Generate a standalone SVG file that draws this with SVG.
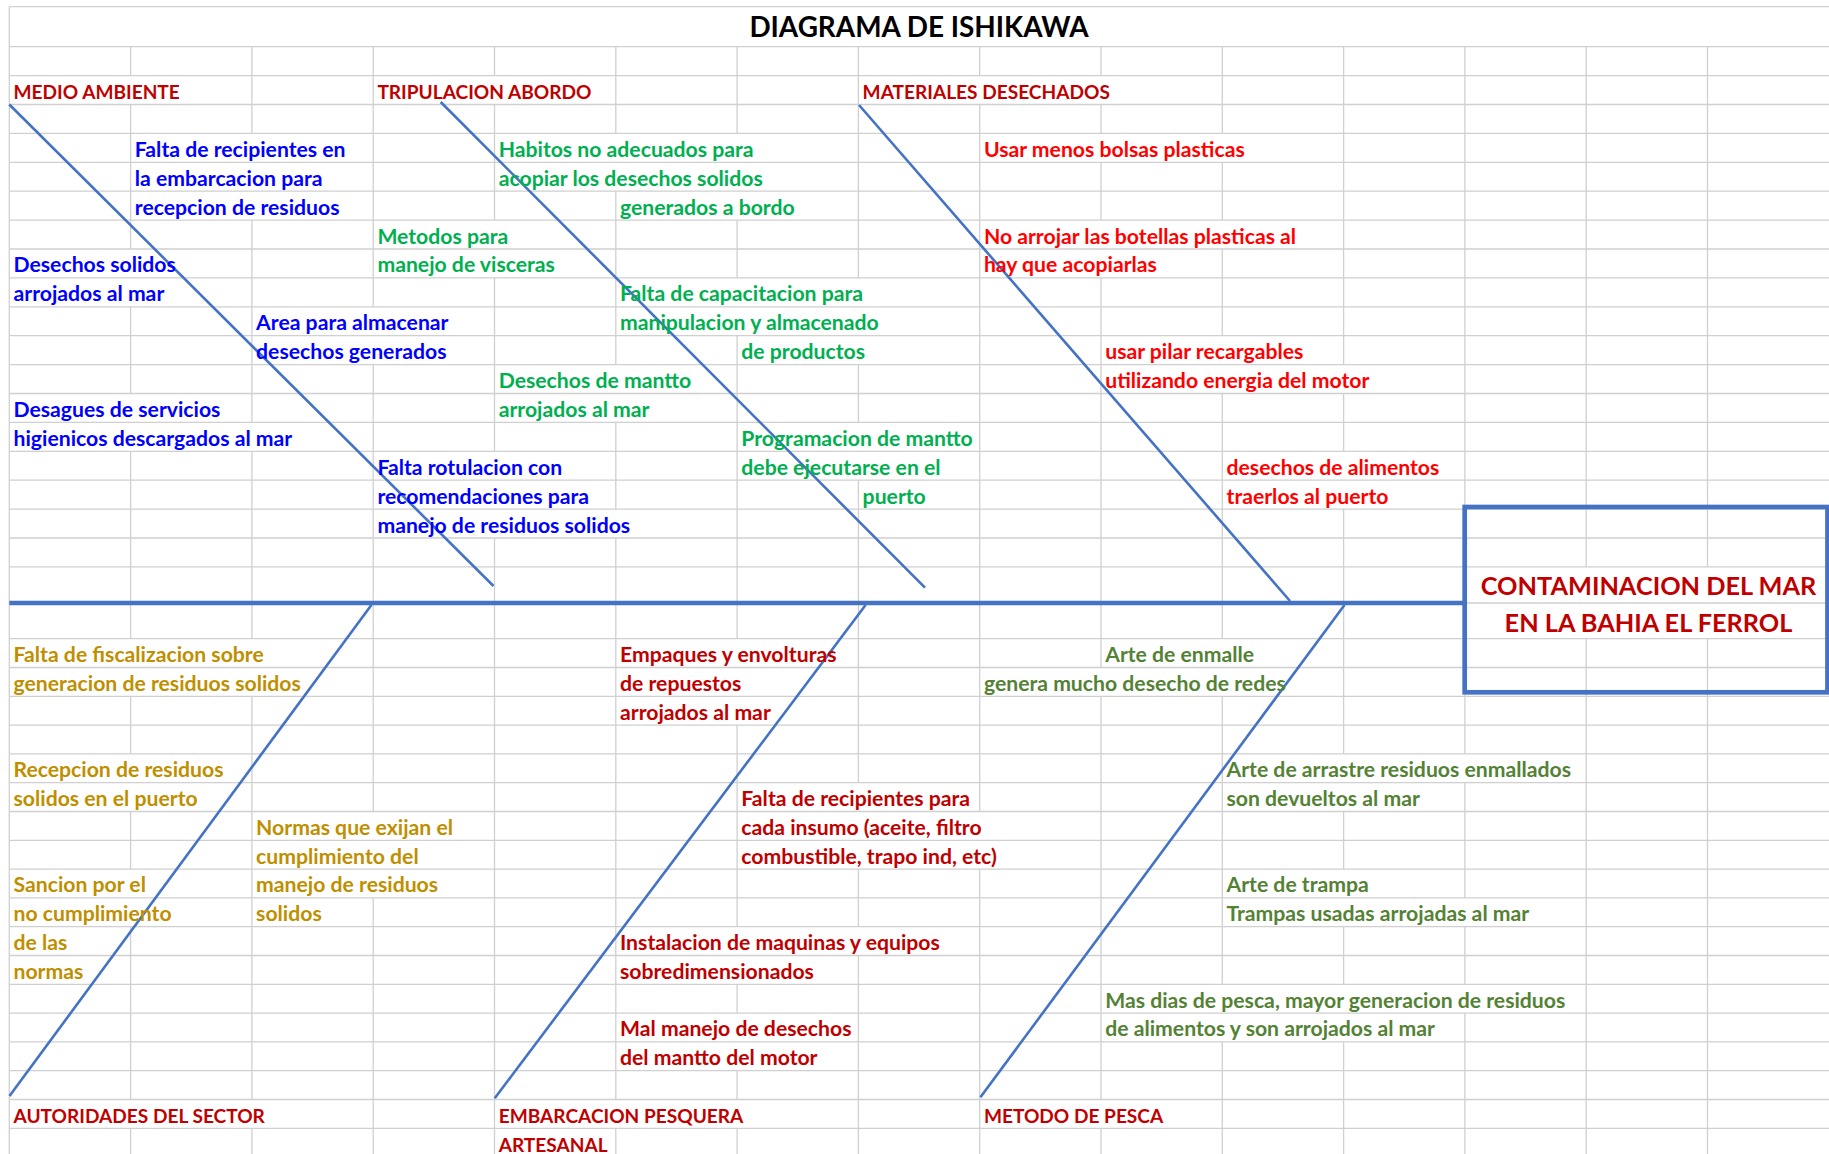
<svg xmlns="http://www.w3.org/2000/svg" width="1829" height="1154" viewBox="0 0 1829 1154">
<style>
.grid{fill:none;stroke:#D0D0D0;stroke-width:1.3}
.bone{fill:none;stroke:#4472C4;stroke-width:2.6;stroke-linecap:butt}
.spine{fill:none;stroke:#4472C4;stroke-width:4.7}
.box{fill:none;stroke:#4472C4;stroke-width:4.7}
text{font-family:Lato,"Liberation Sans",sans-serif;font-weight:bold;font-size:21.2px}
.ttl{font-size:27.9px}
.eff{font-size:25.3px}
.hdr{fill:#C00000;font-size:19.1px}
.blue{fill:#0000FF}
.green{fill:#00B050}
.red{fill:#FF0000}
.gold{fill:#BF8F00}
.dred{fill:#C00000}
.olive{fill:#548235}
.black{fill:#000000}
</style>
<rect width="1829" height="1154" fill="#FFFFFF"/>
<g id="grid">
<path class="grid" d="M9.3 6.7H1829M9.3 46.7H1829M9.3 75.6H1829M9.3 104.5H1829M9.3 133.4H1829M9.3 162.3H1829M9.3 191.2H1829M9.3 220.1H1829M9.3 249H1829M9.3 277.9H1829M9.3 306.8H1829M9.3 335.7H1829M9.3 364.6H1829M9.3 393.5H1829M9.3 422.4H1829M9.3 451.3H1829M9.3 480.2H1829M9.3 509.1H1829M9.3 538H1829M9.3 566.9H1829M9.3 603H1829M9.3 638.7H1829M9.3 667.5H1829M9.3 696.3H1829M9.3 725.1H1829M9.3 753.9H1829M9.3 782.7H1829M9.3 811.5H1829M9.3 840.3H1829M9.3 869.1H1829M9.3 897.9H1829M9.3 926.7H1829M9.3 955.5H1829M9.3 984.3H1829M9.3 1013.1H1829M9.3 1041.9H1829M9.3 1070.7H1829M9.3 1099.5H1829M9.3 1128.3H1829"/>
<path class="grid" d="M9.3 6.7V1154
M130.6 46.7V75.6M130.6 104.5V249M130.6 306.8V393.5M130.6 451.3V638.7M130.6 696.3V753.9M130.6 811.5V869.1M130.6 926.7V1099.5M130.6 1128.3V1154
M251.9 46.7V133.4M251.9 220.1V422.4M251.9 451.3V638.7M251.9 696.3V1099.5M251.9 1128.3V1154
M373.2 46.7V306.8M373.2 364.6V811.5M373.2 897.9V1154
M494.5 46.7V75.6M494.5 104.5V220.1M494.5 277.9V451.3M494.5 538V1154
M615.8 46.7V133.4M615.8 191.2V364.6M615.8 422.4V509.1M615.8 538V1099.5M615.8 1128.3V1154
M737.1 46.7V133.4M737.1 220.1V277.9M737.1 335.7V638.7M737.1 725.1V926.7M737.1 984.3V1013.1M737.1 1070.7V1099.5M737.1 1128.3V1154
M858.4 46.7V277.9M858.4 364.6V422.4M858.4 480.2V782.7M858.4 869.1V926.7M858.4 955.5V1154
M979.7 46.7V75.6M979.7 104.5V811.5M979.7 869.1V1154
M1101 46.7V75.6M1101 104.5V133.4M1101 162.3V220.1M1101 277.9V667.5M1101 696.3V1099.5M1101 1128.3V1154
M1222.3 46.7V133.4M1222.3 162.3V220.1M1222.3 249V335.7M1222.3 393.5V638.7M1222.3 696.3V984.3M1222.3 1041.9V1154
M1343.6 46.7V364.6M1343.6 393.5V451.3M1343.6 509.1V753.9M1343.6 811.5V869.1M1343.6 926.7V984.3M1343.6 1041.9V1154
M1464.9 46.7V753.9M1464.9 782.7V897.9M1464.9 926.7V984.3M1464.9 1013.1V1154
M1586.2 46.7V566.9M1586.2 638.7V1154
M1707.5 46.7V566.9M1707.5 638.7V1154"/>
</g>
<g id="title">
<text class="ttl black" x="919" y="37.3" text-anchor="middle">DIAGRAMA DE ISHIKAWA</text>
</g>
<g id="connectors">
<line class="spine" x1="9.3" y1="603" x2="1464.7" y2="603"/>
<line class="bone" x1="9.3" y1="104.5" x2="493.5" y2="586"/>
<line class="bone" x1="440.7" y1="102" x2="925" y2="587.7"/>
<line class="bone" x1="859" y1="105" x2="1290" y2="601"/>
<line class="bone" x1="371.4" y1="605" x2="9.5" y2="1096"/>
<line class="bone" x1="865.6" y1="605" x2="494.7" y2="1098.3"/>
<line class="bone" x1="1344.5" y1="605" x2="980.4" y2="1097.3"/>
</g>
<g id="effect">
<rect class="box" x="1464.7" y="507" width="362.8" height="185.3"/>
<text class="eff dred" x="1648.5" y="595" text-anchor="middle">CONTAMINACION DEL MAR</text>
<text class="eff dred" x="1648.5" y="631.7" text-anchor="middle">EN LA BAHIA EL FERROL</text>
</g>
<g id="cat-medio-ambiente">
<text class="hdr" x="13.5" y="99">MEDIO AMBIENTE</text>
<text class="blue" x="134.8" y="156.8">Falta de recipientes en</text>
<text class="blue" x="134.8" y="185.7">la embarcacion para</text>
<text class="blue" x="134.8" y="214.6">recepcion de residuos</text>
<text class="blue" x="13.5" y="272.4">Desechos solidos</text>
<text class="blue" x="13.5" y="301.3">arrojados al mar</text>
<text class="blue" x="256.1" y="330.2">Area para almacenar</text>
<text class="blue" x="256.1" y="359.1">desechos generados</text>
<text class="blue" x="13.5" y="416.9">Desagues de servicios</text>
<text class="blue" x="13.5" y="445.8">higienicos descargados al mar</text>
<text class="blue" x="377.4" y="474.7">Falta rotulacion con</text>
<text class="blue" x="377.4" y="503.6">recomendaciones para</text>
<text class="blue" x="377.4" y="532.5">manejo de residuos solidos</text>
</g>
<g id="cat-tripulacion">
<text class="hdr" x="377.4" y="99">TRIPULACION ABORDO</text>
<text class="green" x="498.7" y="156.8">Habitos no adecuados para</text>
<text class="green" x="498.7" y="185.7">acopiar los desechos solidos</text>
<text class="green" x="620" y="214.6">generados a bordo</text>
<text class="green" x="377.4" y="243.5">Metodos para</text>
<text class="green" x="377.4" y="272.4">manejo de visceras</text>
<text class="green" x="620" y="301.3">Falta de capacitacion para</text>
<text class="green" x="620" y="330.2">manipulacion y almacenado</text>
<text class="green" x="741.3" y="359.1">de productos</text>
<text class="green" x="498.7" y="388">Desechos de mantto</text>
<text class="green" x="498.7" y="416.9">arrojados al mar</text>
<text class="green" x="741.3" y="445.8">Programacion de mantto</text>
<text class="green" x="741.3" y="474.7">debe ejecutarse en el</text>
<text class="green" x="862.6" y="503.6">puerto</text>
</g>
<g id="cat-materiales">
<text class="hdr" x="862.6" y="99">MATERIALES DESECHADOS</text>
<text class="red" x="983.9" y="156.8">Usar menos bolsas plasticas</text>
<text class="red" x="983.9" y="243.5">No arrojar las botellas plasticas al</text>
<text class="red" x="983.9" y="272.4">hay que acopiarlas</text>
<text class="red" x="1105.2" y="359.1">usar pilar recargables</text>
<text class="red" x="1105.2" y="388">utilizando energia del motor</text>
<text class="red" x="1226.5" y="474.7">desechos de alimentos</text>
<text class="red" x="1226.5" y="503.6">traerlos al puerto</text>
</g>
<g id="cat-autoridades">
<text class="gold" x="13.5" y="662">Falta de fiscalizacion sobre</text>
<text class="gold" x="13.5" y="690.8">generacion de residuos solidos</text>
<text class="gold" x="13.5" y="777.2">Recepcion de residuos</text>
<text class="gold" x="13.5" y="806">solidos en el puerto</text>
<text class="gold" x="256.1" y="834.8">Normas que exijan el</text>
<text class="gold" x="256.1" y="863.6">cumplimiento del</text>
<text class="gold" x="256.1" y="892.4">manejo de residuos</text>
<text class="gold" x="256.1" y="921.2">solidos</text>
<text class="gold" x="13.5" y="892.4">Sancion por el</text>
<text class="gold" x="13.5" y="921.2">no cumplimiento</text>
<text class="gold" x="13.5" y="950">de las</text>
<text class="gold" x="13.5" y="978.8">normas</text>
<text class="hdr" x="13.5" y="1122.8">AUTORIDADES DEL SECTOR</text>
</g>
<g id="cat-embarcacion">
<text class="dred" x="620" y="662">Empaques y envolturas</text>
<text class="dred" x="620" y="690.8">de repuestos</text>
<text class="dred" x="620" y="719.6">arrojados al mar</text>
<text class="dred" x="741.3" y="806">Falta de recipientes para</text>
<text class="dred" x="741.3" y="834.8">cada insumo (aceite, filtro</text>
<text class="dred" x="741.3" y="863.6">combustible, trapo ind, etc)</text>
<text class="dred" x="620" y="950">Instalacion de maquinas y equipos</text>
<text class="dred" x="620" y="978.8">sobredimensionados</text>
<text class="dred" x="620" y="1036.4">Mal manejo de desechos</text>
<text class="dred" x="620" y="1065.2">del mantto del motor</text>
<text class="hdr" x="498.7" y="1122.8">EMBARCACION PESQUERA</text>
<text class="hdr" x="498.7" y="1151.6">ARTESANAL</text>
</g>
<g id="cat-metodo-pesca">
<text class="olive" x="1105.2" y="662">Arte de enmalle</text>
<text class="olive" x="983.9" y="690.8">genera mucho desecho de redes</text>
<text class="olive" x="1226.5" y="777.2">Arte de arrastre residuos enmallados</text>
<text class="olive" x="1226.5" y="806">son devueltos al mar</text>
<text class="olive" x="1226.5" y="892.4">Arte de trampa</text>
<text class="olive" x="1226.5" y="921.2">Trampas usadas arrojadas al mar</text>
<text class="olive" x="1105.2" y="1007.6">Mas dias de pesca, mayor generacion de residuos</text>
<text class="olive" x="1105.2" y="1036.4">de alimentos y son arrojados al mar</text>
<text class="hdr" x="983.9" y="1122.8">METODO DE PESCA</text>
</g>
</svg>
